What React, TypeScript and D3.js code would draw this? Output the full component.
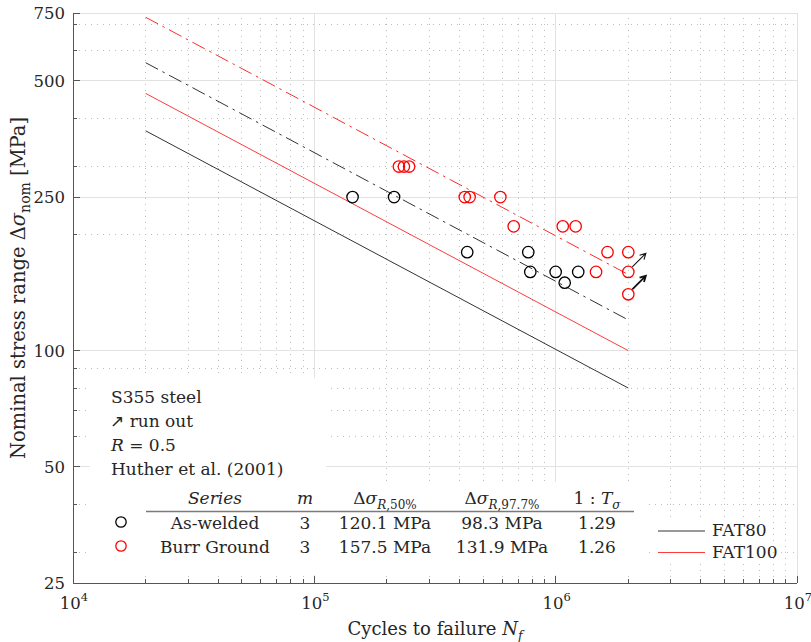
import React, { useEffect, useRef } from 'react';
import * as d3 from 'd3';

// As-welded test results: cycles to failure / nominal stress range [MPa]
const asWeldedCycles = [1.44e5, 2.14e5, 4.3e5, 7.7e5, 7.85e5, 1.0e6, 1.09e6, 1.24e6];
const asWeldedStress = [250, 250, 180, 180, 160, 160, 150, 160];

// Burr ground test results
const burrCycles = [2.24e5, 2.35e5, 2.47e5, 4.2e5, 4.4e5, 5.9e5, 6.7e5, 1.07e6, 1.21e6, 1.64e6, 2.0e6, 1.47e6, 2.0e6, 2.0e6];
const burrStress = [300, 300, 300, 250, 250, 250, 210, 210, 210, 180, 180, 160, 160, 140];

// run outs (specimens that did not fail)
const runOutCycles = [2.0e6, 2.0e6];
const runOutStress = [160, 140];

// S-N lines, end points at 2e4 and 2e6 cycles
const lineCycles = [2e4, 2e6];
const fat80Stress = [371.3, 80];
const fat100Stress = [464.2, 100];
const meanAsWeldedStress = [557.5, 120.1];
const meanBurrStress = [731.1, 157.5];

// axis ticks
const xMajorTicks = [1e4, 1e5, 1e6, 1e7];
const xTickExponents = ['4', '5', '6', '7'];
const xMinorTicks = [
  2e4, 3e4, 4e4, 5e4, 6e4, 7e4, 8e4, 9e4,
  2e5, 3e5, 4e5, 5e5, 6e5, 7e5, 8e5, 9e5,
  2e6, 3e6, 4e6, 5e6, 6e6, 7e6, 8e6, 9e6,
];
const yMajorTicks = [25, 50, 100, 250, 500, 750];
const yMinorTicks = [30, 40, 60, 70, 80, 90, 200, 300, 400, 600, 700];

// summary table
const seriesNames = ['As-welded', 'Burr Ground'];
const seriesSlope = ['3', '3'];
const seriesMean = ['120.1 MPa', '157.5 MPa'];
const seriesSurvival = ['98.3 MPa', '131.9 MPa'];
const seriesScatter = ['1.29', '1.26'];
const seriesColors = ['#000000', '#ff0000'];

const fatNames = ['FAT80', 'FAT100'];
const fatColors = ['#333333', '#ff3b3b'];

const FONT = "'DejaVu Serif', 'Liberation Serif', serif";
const INK = '#262626';

const App = () => {
  const svgRef = useRef<SVGSVGElement>(null);

  useEffect(() => {
    const svg = d3.select(svgRef.current);
    svg.selectAll('*').remove();

    const width = 811;
    const height = 642;
    const margin = { top: 13, right: 14, bottom: 59, left: 73 };

    const x = d3.scaleLog().domain([1e4, 1e7]).range([margin.left, width - margin.right]);
    const y = d3.scaleLog().domain([25, 750]).range([height - margin.bottom, margin.top]);
    const [x0, x1] = x.range();
    const [y0, y1] = y.range();

    // grid
    const grid = svg.append('g').attr('shape-rendering', 'crispEdges');
    grid.selectAll('.xminor').data(xMinorTicks).join('line')
      .attr('x1', d => x(d)).attr('x2', d => x(d))
      .attr('y1', y0).attr('y2', y1)
      .attr('stroke', '#bdbdbd').attr('stroke-width', 1)
      .attr('stroke-dasharray', '1,5');
    grid.selectAll('.yminor').data(yMinorTicks).join('line')
      .attr('x1', x0).attr('x2', x1)
      .attr('y1', d => y(d)).attr('y2', d => y(d))
      .attr('stroke', '#bdbdbd').attr('stroke-width', 1)
      .attr('stroke-dasharray', '1,5');
    grid.selectAll('.xmajor').data(xMajorTicks.slice(1)).join('line')
      .attr('x1', d => x(d)).attr('x2', d => x(d))
      .attr('y1', y0).attr('y2', y1)
      .attr('stroke', '#e2e2e2').attr('stroke-width', 1);
    grid.selectAll('.ymajor').data(yMajorTicks.slice(1)).join('line')
      .attr('x1', x0).attr('x2', x1)
      .attr('y1', d => y(d)).attr('y2', d => y(d))
      .attr('stroke', '#e2e2e2').attr('stroke-width', 1);

    // white backgrounds behind the text blocks
    const boxes = [
      [90, 378, 326, 482],
      [90, 482, 645, 575],
      [652, 518, 773, 561],
    ];
    svg.append('g').selectAll('rect').data(boxes).join('rect')
      .attr('x', d => d[0]).attr('y', d => d[1])
      .attr('width', d => d[2] - d[0]).attr('height', d => d[3] - d[1])
      .attr('fill', 'white');

    // S-N lines
    const line = d3.line<[number, number]>()
      .x(d => x(d[0]))
      .y(d => y(d[1]));
    const pairs = (s: number[]) => lineCycles.map((n, i) => [n, s[i]] as [number, number]);

    const lines = [
      { values: fat80Stress, color: '#333333', dash: null, w: 1 },
      { values: fat100Stress, color: '#ff3b3b', dash: null, w: 1 },
      { values: meanAsWeldedStress, color: '#333333', dash: '14,5,2.5,5', w: 1 },
      { values: meanBurrStress, color: '#ff2a2a', dash: '14,5,2.5,5', w: 1 },
    ];
    svg.append('g').selectAll('path').data(lines).join('path')
      .attr('d', d => line(pairs(d.values)))
      .attr('fill', 'none')
      .attr('stroke', d => d.color)
      .attr('stroke-width', d => d.w)
      .attr('stroke-dasharray', d => d.dash);

    // test points
    const pts = svg.append('g');
    pts.selectAll('.aw').data(asWeldedCycles).join('circle')
      .attr('cx', d => x(d))
      .attr('cy', (d, i) => y(asWeldedStress[i]))
      .attr('r', 5.7)
      .attr('fill', 'none').attr('stroke', seriesColors[0]).attr('stroke-width', 1.3);
    pts.selectAll('.bg').data(burrCycles).join('circle')
      .attr('cx', d => x(d))
      .attr('cy', (d, i) => y(burrStress[i]))
      .attr('r', 5.7)
      .attr('fill', 'none').attr('stroke', seriesColors[1]).attr('stroke-width', 1.3);

    // run-out arrows
    const arrows = svg.append('g').attr('stroke', '#111').attr('fill', 'none');
    runOutCycles.forEach((n, i) => {
      const cx = x(n);
      const cy = y(runOutStress[i]);
      const tx = cx + 4, ty = cy - 5;
      const hx = cx + 17.5, hy = cy - 18.5;
      const ang = Math.atan2(hy - ty, hx - tx);
      const len = 6.5;
      const a1 = ang + Math.PI - 0.5;
      const a2 = ang + Math.PI + 0.5;
      const w = i === 1 ? 1.8 : 1.1;
      arrows.append('path')
        .attr('d', `M${tx},${ty}L${hx},${hy}M${hx + len * Math.cos(a1)},${hy + len * Math.sin(a1)}L${hx},${hy}L${hx + len * Math.cos(a2)},${hy + len * Math.sin(a2)}`)
        .attr('stroke-width', w);
    });

    // axes
    const axes = svg.append('g').attr('stroke', '#555').attr('shape-rendering', 'crispEdges');
    axes.append('line').attr('x1', x0).attr('x2', x0).attr('y1', y0).attr('y2', y1);
    axes.append('line').attr('x1', x0).attr('x2', x1).attr('y1', y0).attr('y2', y0);
    axes.selectAll('.yt').data(yMajorTicks).join('line')
      .attr('x1', x0).attr('x2', x0 + 7).attr('y1', d => y(d)).attr('y2', d => y(d));
    axes.selectAll('.ytm').data(yMinorTicks).join('line')
      .attr('x1', x0).attr('x2', x0 + 4).attr('y1', d => y(d)).attr('y2', d => y(d));
    axes.selectAll('.xt').data(xMajorTicks).join('line')
      .attr('x1', d => x(d)).attr('x2', d => x(d)).attr('y1', y0).attr('y2', y0 - 7);
    axes.selectAll('.xtm').data(xMinorTicks).join('line')
      .attr('x1', d => x(d)).attr('x2', d => x(d)).attr('y1', y0).attr('y2', y0 - 4);

    const txt = svg.append('g')
      .attr('font-family', FONT)
      .attr('fill', INK);

    // tick labels
    txt.selectAll('.ylab').data(yMajorTicks).join('text')
      .attr('x', x0 - 8)
      .attr('y', d => y(d) + 6)
      .attr('text-anchor', 'end')
      .attr('font-size', 16.5)
      .text(d => d);
    xMajorTicks.forEach((d, i) => {
      const t = txt.append('text')
        .attr('x', x(d) + 1)
        .attr('y', y0 + 26)
        .attr('text-anchor', 'middle')
        .attr('font-size', 16.5);
      t.append('tspan').text('10');
      t.append('tspan').attr('dy', -8).attr('font-size', 11.5).text(xTickExponents[i]);
    });

    // axis labels
    const xl = txt.append('text')
      .attr('x', (x0 + x1) / 2)
      .attr('y', 635)
      .attr('text-anchor', 'middle')
      .attr('font-size', 18);
    xl.append('tspan').text('Cycles to failure ');
    xl.append('tspan').attr('font-style', 'italic').text('N');
    xl.append('tspan').attr('font-style', 'italic').attr('font-size', 12.5).attr('dy', 5).text('f');

    const yl = txt.append('text')
      .attr('transform', 'rotate(-90)')
      .attr('x', -288)
      .attr('y', 25)
      .attr('text-anchor', 'middle')
      .attr('font-size', 19.5);
    yl.append('tspan').text('Nominal stress range Δ');
    yl.append('tspan').attr('font-style', 'italic').text('σ');
    yl.append('tspan').attr('font-size', 14).attr('dy', 5).text('nom');
    yl.append('tspan').attr('dy', -5).text(' [MPa]');

    // annotation block
    const ann = txt.append('g').attr('font-size', 17);
    ann.append('text').attr('x', 111).attr('y', 403).text('S355 steel');
    const ro = ann.append('text').attr('x', 110).attr('y', 427);
    ro.append('tspan').attr('font-family', 'DejaVu Sans').attr('font-size', 17).text('↗');
    ro.append('tspan').text(' run out');
    const rr = ann.append('text').attr('x', 111).attr('y', 451);
    rr.append('tspan').attr('font-style', 'italic').text('R');
    rr.append('tspan').text(' = 0.5');
    ann.append('text').attr('x', 111).attr('y', 475).text('Huther et al. (2001)');

    // summary table
    const cols = [215, 305, 385, 502, 597];
    const tbl = txt.append('g').attr('font-size', 17).attr('text-anchor', 'middle');
    tbl.append('text').attr('x', cols[0]).attr('y', 504).attr('font-style', 'italic').text('Series');
    tbl.append('text').attr('x', cols[1]).attr('y', 504).attr('font-style', 'italic').text('m');
    [['R,50%', cols[2]], ['R,97.7%', cols[3]]].forEach(([sub, cx]) => {
      const h = tbl.append('text').attr('x', cx as number).attr('y', 504);
      h.append('tspan').text('Δ');
      h.append('tspan').attr('font-style', 'italic').text('σ');
      const s = h.append('tspan').attr('font-size', 12).attr('dy', 5);
      s.append('tspan').attr('font-style', 'italic').text('R');
      s.append('tspan').text((sub as string).slice(1));
    });
    const th = tbl.append('text').attr('x', cols[4]).attr('y', 504);
    th.append('tspan').text('1 : ');
    th.append('tspan').attr('font-style', 'italic').text('T');
    th.append('tspan').attr('font-style', 'italic').attr('font-size', 12).attr('dy', 5).text('σ');

    svg.append('line')
      .attr('x1', 146).attr('x2', 634).attr('y1', 511.5).attr('y2', 511.5)
      .attr('stroke', '#7a7a7a').attr('stroke-width', 1.6);

    const rowY = [529, 553];
    seriesNames.forEach((name, i) => {
      const cells = [name, seriesSlope[i], seriesMean[i], seriesSurvival[i], seriesScatter[i]];
      cells.forEach((c, j) => {
        tbl.append('text').attr('x', cols[j]).attr('y', rowY[i]).text(c);
      });
      svg.append('circle')
        .attr('cx', 121).attr('cy', rowY[i] - 7)
        .attr('r', 5.2)
        .attr('fill', 'none')
        .attr('stroke', seriesColors[i])
        .attr('stroke-width', 1.3);
    });

    // FAT legend
    const legY = [531, 552.5];
    fatNames.forEach((name, i) => {
      svg.append('line')
        .attr('x1', 658).attr('x2', 705)
        .attr('y1', legY[i]).attr('y2', legY[i])
        .attr('stroke', fatColors[i]).attr('stroke-width', 1);
      txt.append('text')
        .attr('x', 712).attr('y', legY[i] + 5)
        .attr('font-size', 17)
        .text(name);
    });
  }, []);

  return (
    <svg
      ref={svgRef}
      width={811}
      height={642}
      style={{ position: 'absolute', left: 0, top: 0, background: 'white' }}
    />
  );
};

export default App;
